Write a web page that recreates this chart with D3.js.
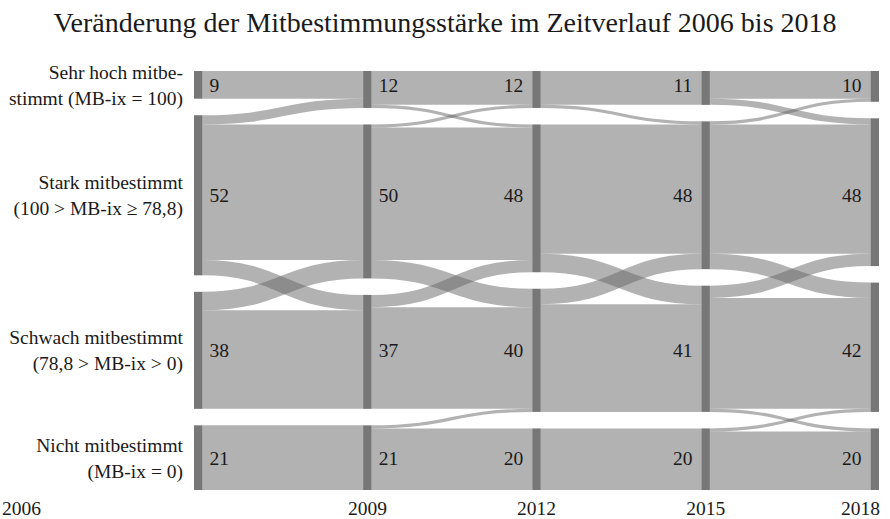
<!DOCTYPE html>
<html>
<head>
<meta charset="utf-8">
<script src="https://cdn.jsdelivr.net/npm/d3@7"></script>
</head>
<body style="margin:0">
<div id="chart"></div>
<script>
// Alluvial chart: change of co-determination strength 2006 - 2018

// Columns (survey years)
const years = ["2006", "2009", "2012", "2015", "2018"];

// Categories, top to bottom
const categories = ["Sehr hoch", "Stark", "Schwach", "Nicht"];

// Row labels on the left (two lines each)
const rowLabels = [
  ["Sehr hoch mitbe-", "stimmt (MB-ix = 100)"],
  ["Stark mitbestimmt", "(100 > MB-ix \u2265 78,8)"],
  ["Schwach mitbestimmt", "(78,8 > MB-ix > 0)"],
  ["Nicht mitbestimmt", "(MB-ix = 0)"]
];

// Node values per year (same order as categories)
const values2006 = [9, 52, 38, 21];
const values2009 = [12, 50, 37, 21];
const values2012 = [12, 48, 40, 20];
const values2015 = [11, 48, 41, 20];
const values2018 = [10, 48, 42, 20];

// Flows between two waves: rows = from category, columns = to category
const flows0609 = [[9, 0, 0, 0], [3, 44, 5, 0], [0, 6, 32, 0], [0, 0, 0, 21]];
const flows0912 = [[11, 1, 0, 0], [1, 43, 6, 0], [0, 4, 33, 0], [0, 0, 1, 20]];
const flows1215 = [[11, 1, 0, 0], [0, 42, 6, 0], [0, 5, 35, 0], [0, 0, 0, 20]];
const flows1518 = [[9, 2, 0, 0], [1, 42, 5, 0], [0, 4, 36, 1], [0, 0, 1, 19]];

const nodeValues = [values2006, values2009, values2012, values2015, values2018];
const flows = [flows0609, flows0912, flows1215, flows1518];

const chartWidth = 890;
const chartHeight = 519;
const nodeWidth = 8.5;
const nodePadding = 16.5;
const yTop = 71;
const yBottom = 490;
const fontStack = "'Liberation Serif'";
const textColor = "#1a1a1a";

const svg = d3.select("#chart")
  .append("svg")
  .attr("width", chartWidth)
  .attr("height", chartHeight);

// Title
svg.append("text")
  .attr("x", chartWidth / 2)
  .attr("y", 32)
  .attr("text-anchor", "middle")
  .style("font-family", fontStack)
  .style("font-size", "28px")
  .style("fill", textColor)
  .text("Veränderung der Mitbestimmungsstärke im Zeitverlauf 2006 bis 2018");

// Horizontal position of each column
const xScale = d3.scalePoint()
  .domain(years)
  .range([194, 870.5]);

// Vertical scale: value units -> pixels (every column sums to the same total)
const total = d3.max(nodeValues, v => d3.sum(v));
const ky = (yBottom - yTop - (categories.length - 1) * nodePadding) / total;

// Build nodes: position each node of a column stacked with padding
const nodes = nodeValues.map((vals, c) => {
  let y = yTop;
  return vals.map((v, r) => {
    const node = { col: c, row: r, value: v, x0: xScale(years[c]), x1: xScale(years[c]) + nodeWidth, y0: y, y1: y + v * ky };
    y = node.y1 + nodePadding;
    return node;
  });
});

// Build links with their positions at source and target node
const flowLinks = [];
flows.forEach((m, c) => {
  const outOffset = nodes[c].map(n => n.y0);
  const inOffset = nodes[c + 1].map(n => n.y0);
  // outgoing sorted by target row, incoming sorted by source row
  const list = [];
  m.forEach((row, s) => row.forEach((v, t) => { if (v > 0) list.push({ s, t, v }); }));
  list.sort((a, b) => a.s - b.s || a.t - b.t).forEach(l => {
    l.sy = outOffset[l.s] + l.v * ky / 2;
    outOffset[l.s] += l.v * ky;
  });
  list.sort((a, b) => a.t - b.t || a.s - b.s).forEach(l => {
    l.ty = inOffset[l.t] + l.v * ky / 2;
    inOffset[l.t] += l.v * ky;
    l.source = nodes[c][l.s];
    l.target = nodes[c + 1][l.t];
    flowLinks.push(l);
  });
});

const linkPath = d3.linkHorizontal()
  .source(d => [d.source.x1, d.sy])
  .target(d => [d.target.x0, d.ty]);

// Flows
svg.append("g")
  .attr("fill", "none")
  .selectAll("path")
  .data(flowLinks)
  .enter()
  .append("path")
  .attr("d", linkPath)
  .attr("stroke", "#666")
  .attr("stroke-opacity", 0.5)
  .attr("stroke-width", d => d.v * ky);

// Node bars
svg.append("g")
  .selectAll("rect")
  .data(nodes.flat())
  .enter()
  .append("rect")
  .attr("x", d => d.x0)
  .attr("y", d => d.y0)
  .attr("width", nodeWidth)
  .attr("height", d => d.y1 - d.y0)
  .attr("fill", "#777");

// Row centre taken from the first column
const rowY = nodes[0].map(n => (n.y0 + n.y1) / 2);

// Value labels: right of the bar for the first two years, left for the rest
svg.selectAll(".value")
  .data(nodes.flat())
  .enter()
  .append("text")
  .attr("class", "value")
  .attr("x", d => d.col < 2 ? d.x1 + 7 : d.x0 - 9)
  .attr("y", d => rowY[d.row] + 7)
  .attr("text-anchor", d => d.col < 2 ? "start" : "end")
  .style("font-family", fontStack)
  .style("font-size", "19.5px")
  .style("fill", textColor)
  .text(d => d.value);

// Row labels on the left, two lines each
rowLabels.forEach((lines, i) => {
  lines.forEach((line, j) => {
    svg.append("text")
      .attr("x", 183)
      .attr("y", rowY[i] - 6 + j * 26)
      .attr("text-anchor", "end")
      .style("font-family", fontStack)
      .style("font-size", "19.5px")
      .style("fill", textColor)
      .text(line);
  });
});

// Year labels along the bottom
svg.selectAll(".year")
  .data(years)
  .enter()
  .append("text")
  .attr("class", "year")
  .attr("x", (d, i) => i === 0 ? 2 : i === years.length - 1 ? xScale(d) + nodeWidth + 1 : xScale(d) + nodeWidth / 2)
  .attr("y", 515)
  .attr("text-anchor", (d, i) => i === 0 ? "start" : i === years.length - 1 ? "end" : "middle")
  .style("font-family", fontStack)
  .style("font-size", "19.5px")
  .style("fill", textColor)
  .text(d => d);
</script>
</body>
</html>
